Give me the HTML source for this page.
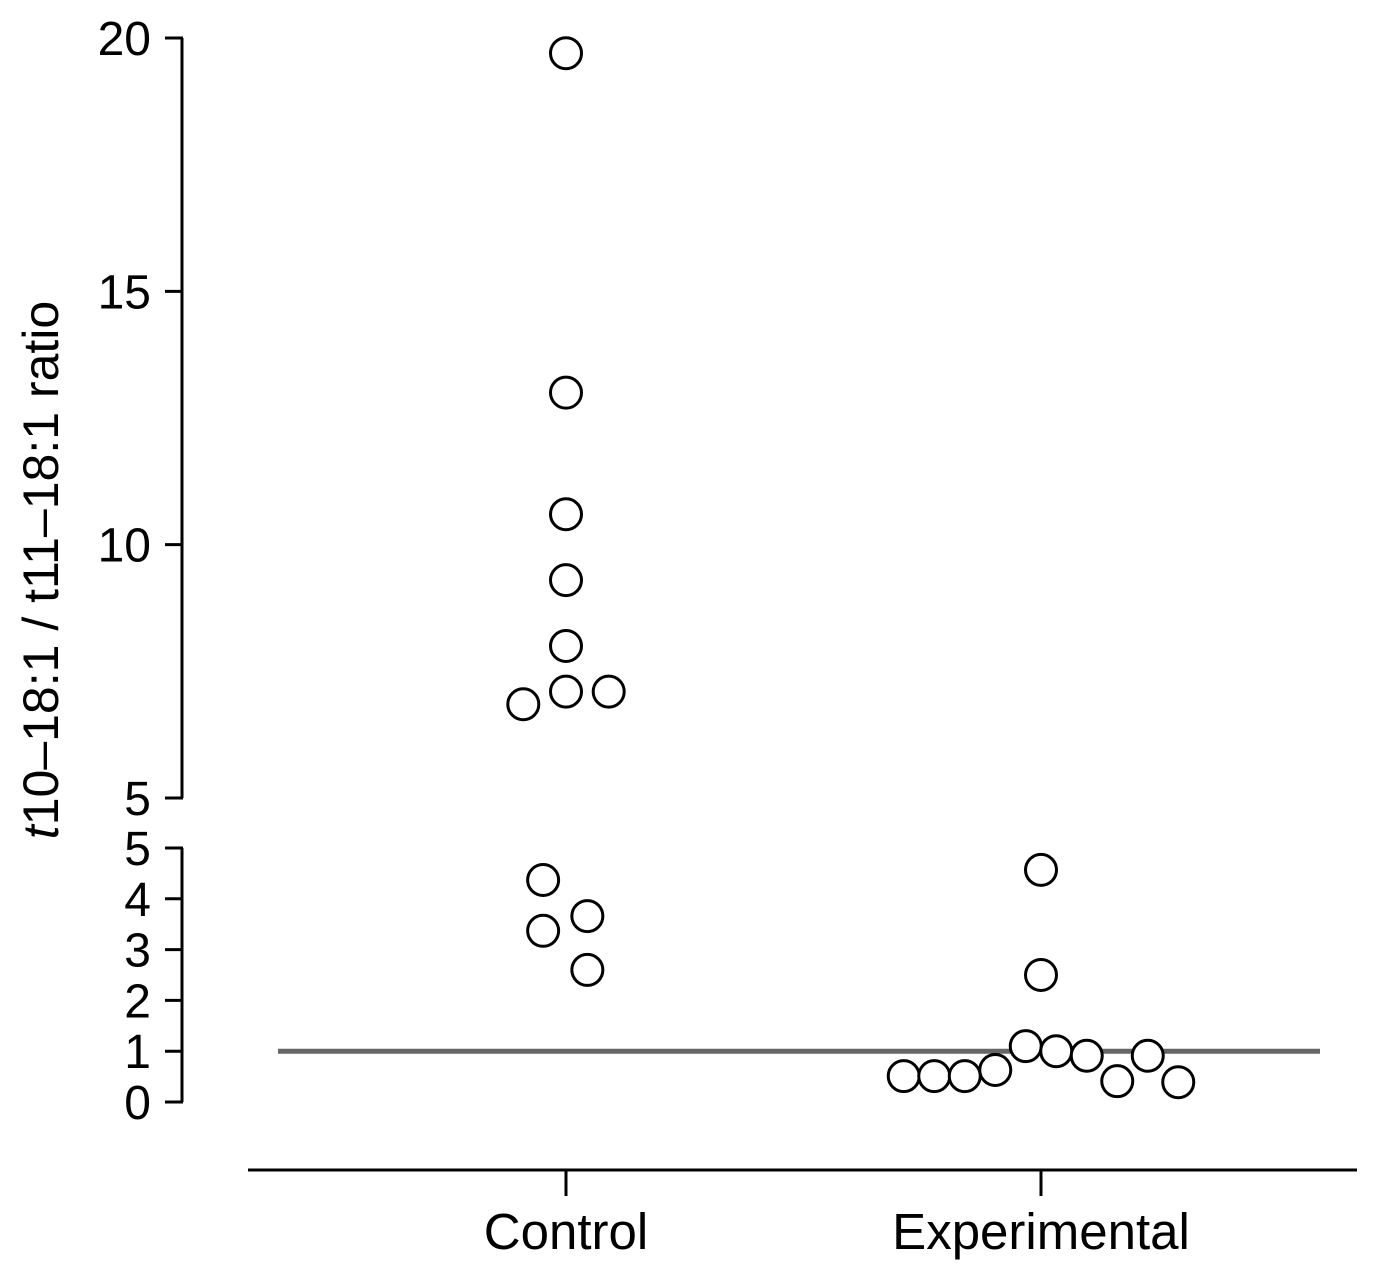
<!DOCTYPE html>
<html><head><meta charset="utf-8"><style>
html,body{margin:0;padding:0;background:#fff;}
svg{display:block;font-family:"Liberation Sans",Arial,sans-serif;}
</style></head><body>
<svg width="1379" height="1270" viewBox="0 0 1379 1270">
<g id="axes"></g><g id="marks"></g>
</svg>
<script>
const categories=["Control","Experimental"];
const controlValues=[19.7,13.0,10.6,9.3,8.0,7.1,7.1,6.85,4.37,3.66,3.37,2.6];
const controlJitter=[0,0,0,0,0,0,1.4,-1.4,-0.75,0.7,-0.75,0.7];
const experimentalValues=[4.57,2.5,1.1,1.0,0.91,0.91,0.51,0.51,0.51,0.63,0.41,0.39];
const experimentalJitter=[0,0,-0.5,0.5,1.5,3.5,-4.5,-3.5,-2.5,-1.5,2.5,4.5];
const upperTicks=[5,10,15,20];
const lowerTicks=[0,1,2,3,4,5];
const referenceValue=1;

const NS="http://www.w3.org/2000/svg";
const axes=document.getElementById('axes'),marks=document.getElementById('marks');
function el(tag,attrs,parent,text){const e=document.createElementNS(NS,tag);for(const k in attrs)e.setAttribute(k,attrs[k]);if(text!==undefined)e.textContent=text;parent.appendChild(e);return e;}
function yScale(v){return v>5?798-(v-5)*(760/15):1102-v*(254/5);}
function yUpper(v){return 798-(v-5)*(760/15);}
function yLower(v){return 1102-v*(254/5);}
const catX=[566,1041];const jitterStep=30.5;
function xScale(ci,j){return catX[ci]+j*jitterStep;}

let l=el('line',{x1:182,y1:yUpper(20),x2:182,y2:yUpper(5),stroke:'#000','stroke-width':3},axes);

l=el('line',{x1:182,y1:yLower(5),x2:182,y2:yLower(0),stroke:'#000','stroke-width':3},axes);

upperTicks.forEach(t=>{const y=yUpper(t);
 const tk=el('line',{x1:165,y1:y,x2:183,y2:y,stroke:'#000','stroke-width':3},axes);
 
 const tx=el('text',{x:151,y:y+17,'font-size':48,'text-anchor':'end'},axes,String(t));
 });
lowerTicks.forEach(t=>{const y=yLower(t);
 const tk=el('line',{x1:165,y1:y,x2:183,y2:y,stroke:'#000','stroke-width':3},axes);
 
 const tx=el('text',{x:151,y:y+17,'font-size':48,'text-anchor':'end'},axes,String(t));
 });
const yt=el('text',{transform:'translate(58,570) rotate(-90)','font-size':50,'text-anchor':'middle'},axes);

el('tspan',{'font-style':'italic'},yt,'t');el('tspan',{},yt,'10–18:1 / t11–18:1 ratio');
l=el('line',{x1:248,y1:1170,x2:1357,y2:1170,stroke:'#000','stroke-width':3},axes);

categories.forEach((c,i)=>{
 const tk=el('line',{x1:catX[i],y1:1170,x2:catX[i],y2:1196,stroke:'#000','stroke-width':3},axes);
 
 const tx=el('text',{x:catX[i],y:1249,'font-size':51,'text-anchor':'middle'},axes,c);
 });
l=el('line',{x1:278,y1:yLower(referenceValue),x2:1320,y2:yLower(referenceValue),stroke:'#666','stroke-width':5},marks);

function drawPts(vals,jit,ci,name){vals.forEach((v,i)=>{
 const c=el('circle',{cx:xScale(ci,jit[i]),cy:yScale(v),r:15.5,fill:'#fff',stroke:'#000','stroke-width':3},marks);
 });}
drawPts(controlValues,controlJitter,0,'control-point');
drawPts(experimentalValues,experimentalJitter,1,'experimental-point');
</script>
</body></html>
